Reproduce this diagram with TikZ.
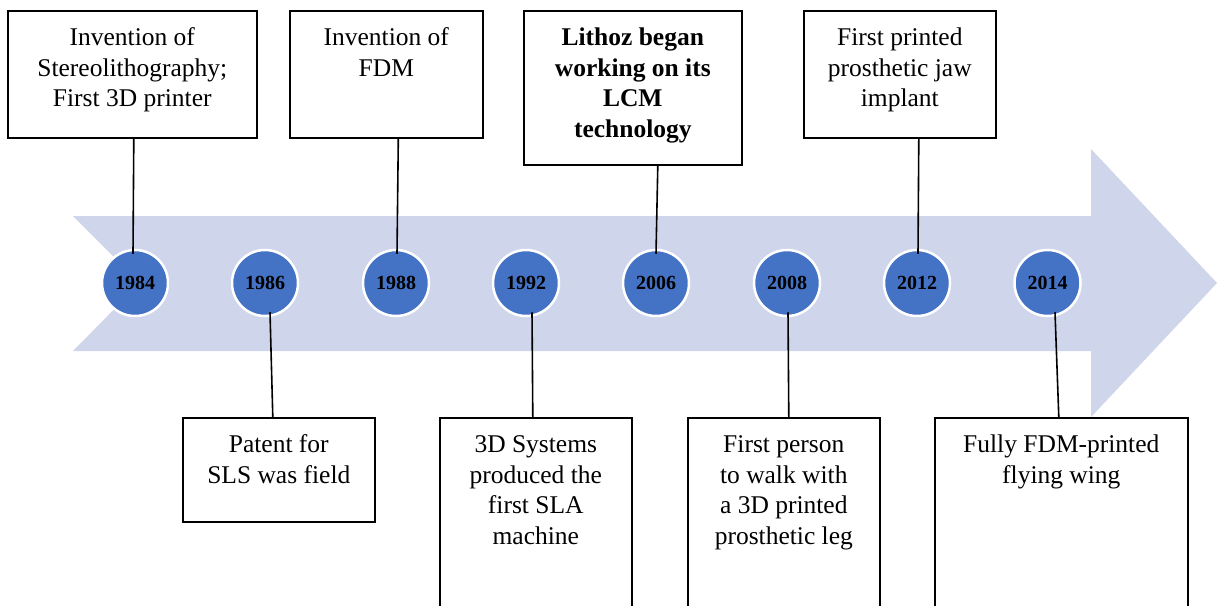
\documentclass[tikz,border=0pt]{standalone}
\usepackage{fontspec}
\setmainfont{Liberation Serif}
\definecolor{arrowfill}{HTML}{CFD5EA}
\definecolor{dotblue}{HTML}{4472C4}
\newcommand{\evtext}[3]{\parbox[c][#2][t]{#1}{\centering\fontsize{25.5}{30.5}\selectfont\rule{0pt}{35pt}#3}}
\begin{document}
\begin{tikzpicture}[x=1pt,y=-1pt,
  evbox/.style={draw, line width=1.6pt, fill=white, inner sep=0pt, anchor=north west},
  yeardot/.style={circle, fill=dotblue, draw=white, line width=2.5pt, minimum size=66pt, inner sep=0pt, font=\fontsize{20}{24}\selectfont\bfseries},
  tick/.style={line width=1.6pt}]
\useasboundingbox (0,0) rectangle (1217,605);
\clip (0,0) rectangle (1217,605);
% arrow band
\fill[arrowfill] (73,216) -- (1091,216) -- (1091,149) -- (1217,283) -- (1091,417) -- (1091,351) -- (73,351) -- (140,283) -- cycle;
% year circles
\node[yeardot] (c84) at (135,283) {1984};
\node[yeardot] (c86) at (265,283) {1986};
\node[yeardot] (c88) at (396,283) {1988};
\node[yeardot] (c92) at (526,283) {1992};
\node[yeardot] (c06) at (656,283) {2006};
\node[yeardot] (c08) at (787,283) {2008};
\node[yeardot] (c12) at (917,283) {2012};
\node[yeardot] (c14) at (1047.5,283) {2014};
% top boxes
\node[evbox] (b84) at (7,10) {\evtext{249pt}{127pt}{Invention of\\Stereolithography;\\First 3D printer}};
\node[evbox] (b88) at (289,10) {\evtext{193pt}{127pt}{Invention of\\FDM}};
\node[evbox] (b06) at (523,10) {\evtext{218pt}{154pt}{\bfseries Lithoz began\\working on its\\LCM\\technology}};
\node[evbox] (b12) at (803,10) {\evtext{192pt}{127pt}{First printed\\prosthetic jaw\\implant}};
% bottom boxes
\node[evbox] (b86) at (182,417) {\evtext{192pt}{104pt}{Patent for\\SLS was field}};
\node[evbox] (b92) at (439,417) {\evtext{192pt}{240pt}{3D Systems\\produced the\\first SLA\\machine}};
\node[evbox] (b08) at (687,417) {\evtext{192pt}{240pt}{First person\\to walk with\\a 3D printed\\prosthetic leg}};
\node[evbox] (b14) at (934,417) {\evtext{253pt}{240pt}{Fully FDM-printed\\flying wing}};
% connectors
\draw[tick] ([xshift=1.5pt]b84.south) -- ([xshift=-2pt,yshift=-5pt]c84.north);
\draw[tick] ([xshift=12pt]b88.south) -- ([xshift=1pt,yshift=-5pt]c88.north);
\draw[tick] ([xshift=25pt]b06.south) -- ([yshift=-5pt]c06.north);
\draw[tick] ([xshift=19pt]b12.south) -- ([xshift=1pt,yshift=-5pt]c12.north);
\draw[tick] ([xshift=5pt,yshift=5pt]c86.south) -- ([xshift=-6pt]b86.north);
\draw[tick] ([xshift=6pt,yshift=5pt]c92.south) -- ([xshift=-3pt]b92.north);
\draw[tick] ([xshift=1pt,yshift=5pt]c08.south) -- ([xshift=5pt]b08.north);
\draw[tick] ([xshift=7.5pt,yshift=5pt]c14.south) -- ([xshift=-2.5pt]b14.north);
\end{tikzpicture}
\end{document}
